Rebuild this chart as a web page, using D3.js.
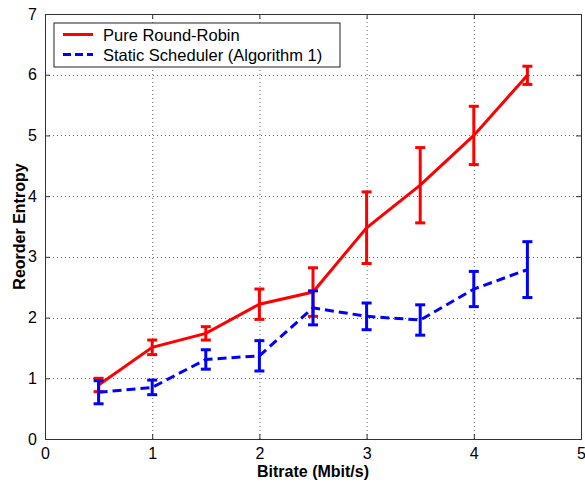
<!DOCTYPE html>
<html>
<head>
<meta charset="utf-8">
<script src="https://cdn.jsdelivr.net/npm/d3@7"></script>
<style>
  body { margin: 0; background: #fff; }
  text { font-family: "Liberation Sans", Arial, sans-serif; }
</style>
</head>
<body>
<div id="chart"></div>
<script>
// data
var bitrate = [0.5, 1, 1.5, 2, 2.5, 3, 3.5, 4, 4.5];
var rrMean = [0.89, 1.51, 1.74, 2.22, 2.42, 3.48, 4.18, 5.0, 5.99];
var rrErr = [0.11, 0.12, 0.11, 0.25, 0.40, 0.59, 0.62, 0.48, 0.15];
var ssMean = [0.77, 0.85, 1.31, 1.37, 2.16, 2.02, 1.96, 2.47, 2.79];
var ssErr = [0.19, 0.12, 0.16, 0.25, 0.28, 0.22, 0.25, 0.29, 0.46];
var seriesNames = ["Pure Round-Robin", "Static Scheduler (Algorithm 1)"];
var xTicks = [0, 1, 2, 3, 4, 5];
var yTicks = [0, 1, 2, 3, 4, 5, 6, 7];

var svgWidth = 585, svgHeight = 482;
var margin = { top: 14, right: 4, bottom: 43, left: 45 };
var width = svgWidth - margin.left - margin.right;
var height = svgHeight - margin.top - margin.bottom;

var svg = d3.select("#chart").append("svg")
  .attr("width", svgWidth)
  .attr("height", svgHeight);

var chartGroup = svg.append("g")
  .attr("transform", `translate(${margin.left}, ${margin.top})`);

var x = d3.scaleLinear().domain([0, 5]).range([0, width]);
var y = d3.scaleLinear().domain([0, 7]).range([height, 0]);

// grid
chartGroup.append("g").selectAll("line")
  .data(xTicks.slice(1, -1))
  .enter().append("line")
  .attr("x1", d => x(d) + 0.5).attr("x2", d => x(d) + 0.5)
  .attr("y1", 0).attr("y2", height)
  .attr("stroke", "#666").attr("stroke-width", 1)
  .attr("stroke-dasharray", "1,3");
chartGroup.append("g").selectAll("line")
  .data(yTicks.slice(1, -1))
  .enter().append("line")
  .attr("y1", d => Math.round(y(d)) + 0.5).attr("y2", d => Math.round(y(d)) + 0.5)
  .attr("x1", 0).attr("x2", width)
  .attr("stroke", "#666").attr("stroke-width", 1)
  .attr("stroke-dasharray", "1,3");

// axes (matlab style box, ticks inside)
var bottomAxis = d3.axisBottom(x).tickValues(xTicks).tickSize(-5).tickPadding(9).tickFormat(d3.format("d"));
var leftAxis = d3.axisLeft(y).tickValues(yTicks).tickSize(-5).tickPadding(8).tickFormat(d3.format("d"));
var topAxis = d3.axisTop(x).tickValues(xTicks).tickSize(-5).tickFormat("");
var rightAxis = d3.axisRight(y).tickValues(yTicks).tickSize(-5).tickFormat("");

function styleAxis(g) {
  g.select(".domain").attr("stroke", "#333");
  g.selectAll(".tick line").attr("stroke", "#333");
  g.selectAll("text").attr("font-size", 16).attr("fill", "#000")
    .style("font-family", "'Liberation Sans', Arial, sans-serif");
}

chartGroup.append("g").attr("transform", `translate(0, ${height})`).call(bottomAxis).call(styleAxis);
chartGroup.append("g").call(leftAxis).call(styleAxis);
chartGroup.append("g").call(topAxis).call(styleAxis);
chartGroup.append("g").attr("transform", `translate(${width}, 0)`).call(rightAxis).call(styleAxis);

// series
var series = [
  { name: seriesNames[0], mean: rrMean, err: rrErr, color: "#ff0000", dash: null },
  { name: seriesNames[1], mean: ssMean, err: ssErr, color: "#0000ff", dash: "9,5" }
];

var line = d3.line()
  .x(d => x(d.x))
  .y(d => y(d.y));

var capHalf = 5;

series.forEach(function(s) {
  var pts = bitrate.map((b, i) => ({ x: b, y: s.mean[i], e: s.err[i] }));

  var eb = chartGroup.append("g");
  pts.forEach(function(p) {
    var cx = x(p.x), yt = y(p.y + p.e), yb = y(p.y - p.e);
    eb.append("line").attr("x1", cx).attr("x2", cx).attr("y1", yt).attr("y2", yb)
      .attr("stroke", s.color).attr("stroke-width", 3);
    eb.append("line").attr("x1", cx - capHalf).attr("x2", cx + capHalf).attr("y1", yt).attr("y2", yt)
      .attr("stroke", s.color).attr("stroke-width", 3);
    eb.append("line").attr("x1", cx - capHalf).attr("x2", cx + capHalf).attr("y1", yb).attr("y2", yb)
      .attr("stroke", s.color).attr("stroke-width", 3);
  });

  chartGroup.append("path")
    .datum(pts)
    .attr("d", line)
    .attr("fill", "none")
    .attr("stroke", s.color)
    .attr("stroke-width", 3)
    .attr("stroke-dasharray", s.dash);
});

// axis labels
svg.append("text")
  .attr("x", margin.left + x(2.5))
  .attr("y", 477)
  .attr("text-anchor", "middle")
  .attr("font-size", 16)
  .attr("font-weight", "bold")
  .text("Bitrate (Mbit/s)");

svg.append("text")
  .attr("transform", `translate(25, ${margin.top + height / 2}) rotate(-90)`)
  .attr("text-anchor", "middle")
  .attr("font-size", 16)
  .attr("font-weight", "bold")
  .text("Reorder Entropy");

// legend
var legend = svg.append("g").attr("transform", "translate(54, 23)");
legend.append("rect")
  .attr("x", 0).attr("y", 0).attr("width", 286).attr("height", 44)
  .attr("fill", "#fff").attr("stroke", "#222").attr("stroke-width", 1);

series.forEach(function(s, i) {
  var ly = 11.5 + i * 20;
  legend.append("line")
    .attr("x1", 9).attr("x2", 39).attr("y1", ly).attr("y2", ly)
    .attr("stroke", s.color).attr("stroke-width", 3)
    .attr("stroke-dasharray", s.dash ? "8,4" : null);
  legend.append("text")
    .attr("x", 49).attr("y", ly + 6)
    .attr("font-size", 16.5)
    .text(s.name);
});
</script>
</body>
</html>
